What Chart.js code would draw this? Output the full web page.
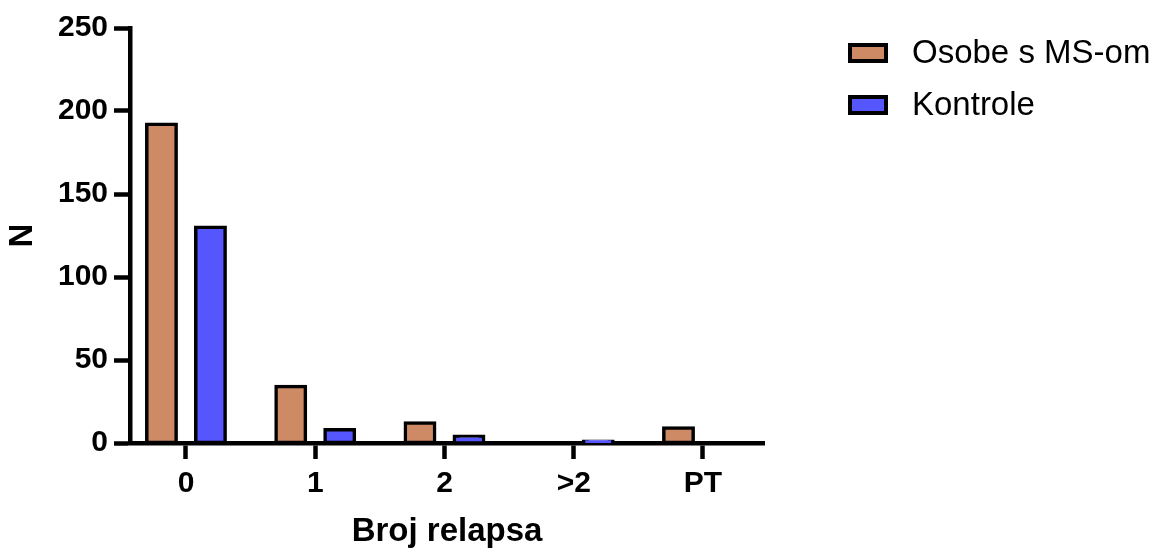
<!DOCTYPE html>
<html>
<head>
<meta charset="utf-8">
<script src="https://cdn.jsdelivr.net/npm/chart.js@4.4.1/dist/chart.umd.min.js"></script>
<style>
  html, body { margin: 0; padding: 0; background: #fff; }
  #wrap { width: 1154px; height: 549px; }
</style>
</head>
<body>
<div id="wrap"><canvas id="chart" width="1154" height="549"></canvas></div>
<script>
// categories and counts
const categories = ['0', '1', '2', '>2', 'PT'];
const msCounts = [192, 34, 12, 0, 9];
const controlCounts = [130, 8, 4, 1, 0];
const seriesNames = ['Osobe s MS-om', 'Kontrole'];
const yTicks = [0, 50, 100, 150, 200, 250];

const FONT = "'Liberation Sans', Arial, sans-serif";
const ORANGE = 'rgb(205,138,100)';
const BLUE = 'rgb(86,86,255)';
const AXIS_W = 4.5;

// x is numeric (category index) so the first/last groups can sit unevenly from the ends
const toPoints = arr => arr.map((v, i) => ({ x: i, y: v }));

// legend drawn on the right, outside the plot
const sideLegend = {
  id: 'sideLegend',
  afterDraw(chart) {
    const ctx = chart.ctx;
    const x0 = 850, y0 = 53, step = 52;
    ctx.save();
    chart.data.datasets.forEach((ds, i) => {
      const cy = y0 + i * step;
      ctx.fillStyle = ds.backgroundColor;
      ctx.fillRect(x0, cy - 8, 36, 16);
      ctx.lineWidth = 4;
      ctx.strokeStyle = '#000';
      ctx.strokeRect(x0, cy - 8, 36, 16);
      ctx.fillStyle = '#000';
      ctx.font = '33px ' + FONT;
      ctx.textBaseline = 'middle';
      ctx.textAlign = 'left';
      ctx.fillText(ds.label, 912, cy + 1);
    });
    ctx.restore();
  }
};

const barStyle = {
  borderColor: '#000',
  borderWidth: 3.5,
  inflateAmount: 1.75,
  borderSkipped: false,
  categoryPercentage: 0.758,
  barPercentage: 0.6
};

new Chart(document.getElementById('chart'), {
  type: 'bar',
  data: {
    datasets: [
      Object.assign({ label: seriesNames[0], data: toPoints(msCounts), backgroundColor: ORANGE }, barStyle),
      Object.assign({ label: seriesNames[1], data: toPoints(controlCounts), backgroundColor: BLUE }, barStyle)
    ]
  },
  options: {
    responsive: false,
    animation: false,
    layout: { padding: { top: 28, right: 390, bottom: 0, left: 0 } },
    plugins: {
      legend: { display: false },
      tooltip: { enabled: false }
    },
    scales: {
      x: {
        type: 'linear',
        offset: false,
        min: -0.433,
        max: 4.472,
        afterBuildTicks(scale) {
          scale.ticks = categories.map((_, i) => ({ value: i }));
        },
        afterFit(scale) {
          scale.height = 106;
        },
        grid: {
          offset: false,
          drawOnChartArea: false,
          drawTicks: true,
          tickLength: 16,
          tickWidth: AXIS_W,
          tickColor: '#000'
        },
        border: { display: true, color: '#000', width: AXIS_W },
        ticks: {
          color: '#000',
          padding: 7,
          autoSkip: false,
          maxRotation: 0,
          callback: v => categories[v],
          font: { family: FONT, size: 30, weight: 'bold' }
        },
        title: {
          display: true,
          text: 'Broj relapsa',
          color: '#000',
          padding: { top: 0, bottom: -3 },
          font: { family: FONT, size: 33, weight: 'bold' }
        }
      },
      y: {
        min: 0,
        max: 250,
        afterBuildTicks(scale) {
          scale.ticks = yTicks.map(v => ({ value: v }));
        },
        afterFit(scale) {
          scale.width = 130;
        },
        grid: {
          drawOnChartArea: false,
          drawTicks: true,
          tickLength: 16,
          tickWidth: AXIS_W,
          tickColor: '#000'
        },
        border: { display: true, color: '#000', width: AXIS_W },
        ticks: {
          color: '#000',
          padding: 6,
          font: { family: FONT, size: 30, weight: 'bold' }
        },
        title: {
          display: true,
          text: 'N',
          color: '#000',
          padding: { top: 3, bottom: 0 },
          font: { family: FONT, size: 33, weight: 'bold' }
        }
      }
    }
  },
  plugins: [sideLegend]
});
</script>
</body>
</html>
